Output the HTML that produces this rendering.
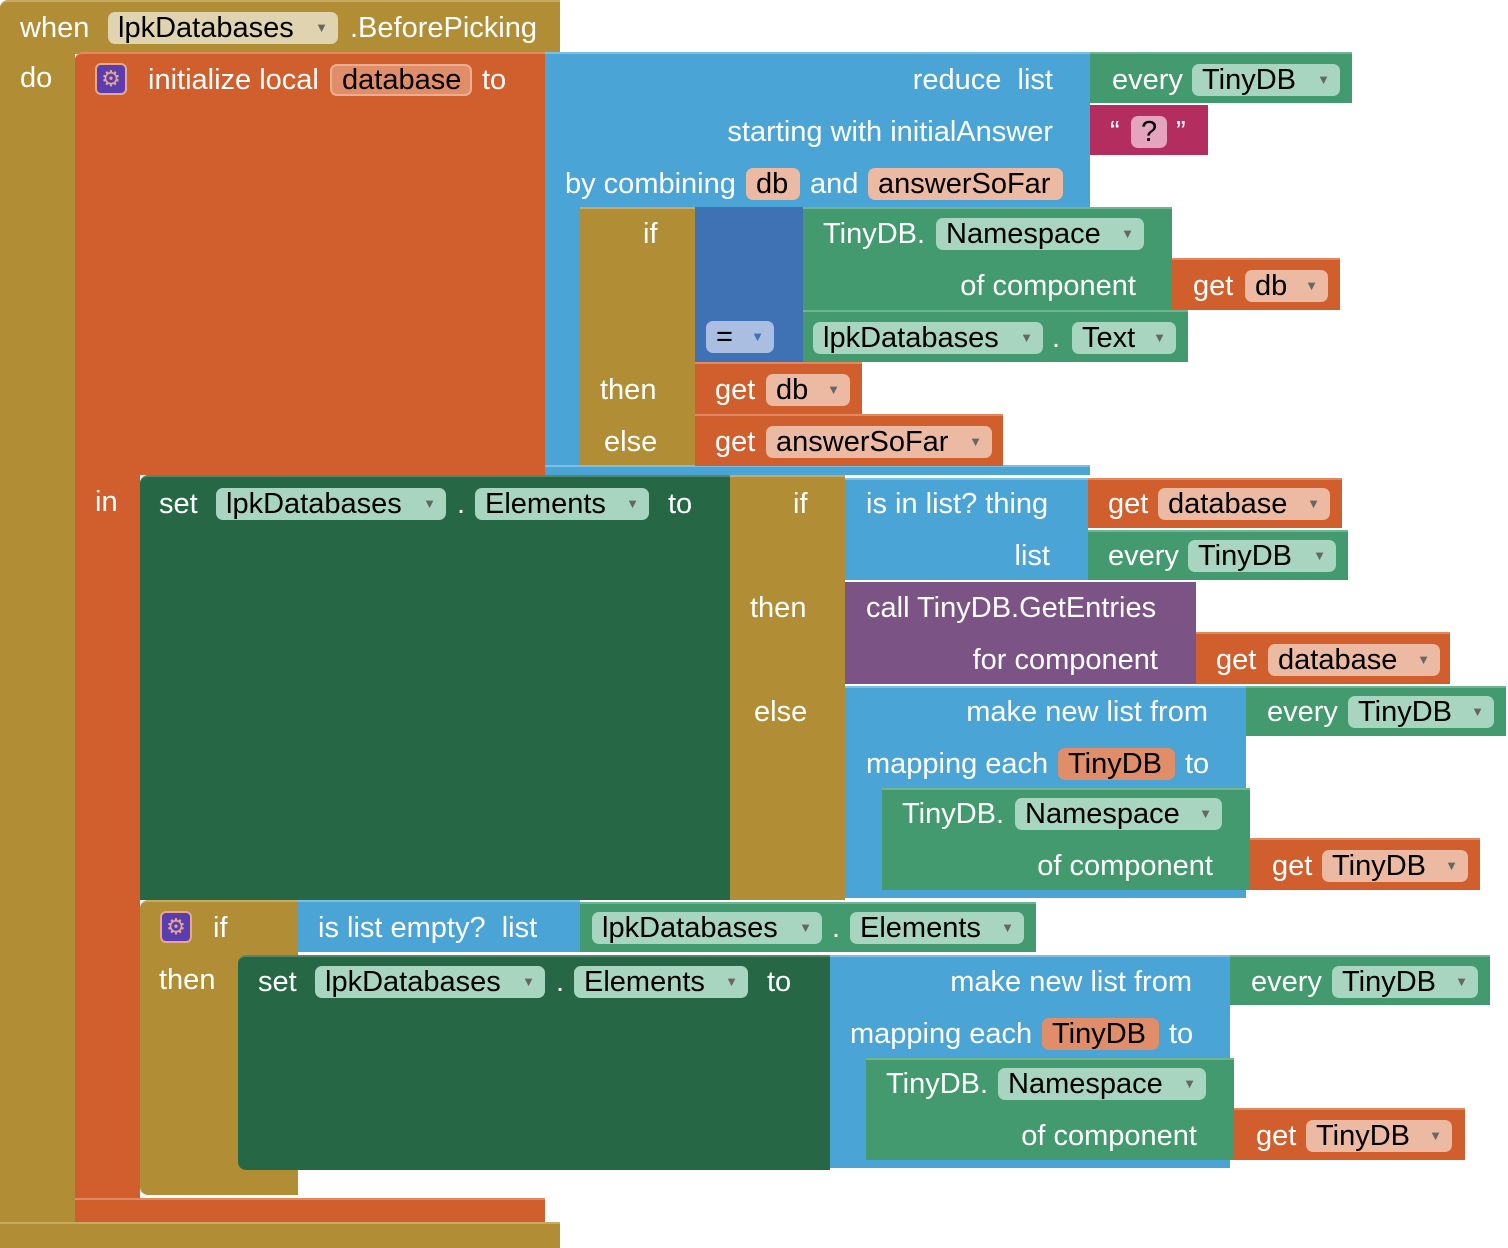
<!DOCTYPE html>
<html><head><meta charset="utf-8"><style>
body{margin:0;width:1508px;height:1248px;background:#fff;position:relative;overflow:hidden;font-family:"Liberation Sans",Arial,sans-serif;}
.b{position:absolute;box-sizing:border-box;}
.t{position:absolute;color:#fff;font-size:29px;line-height:32px;white-space:nowrap;}
.r{text-align:right;}
.f{position:absolute;box-sizing:border-box;height:32px;border-radius:7px;color:#000;font-size:29px;line-height:32px;padding-left:10px;white-space:nowrap;}
.f i{font-style:normal;font-size:13px;color:#666;position:absolute;right:10px;top:0;}
.g{background:#B18E35;border-top:2px solid #C8AB63;}
.o{background:#D05F2D;border-top:2px solid #E08A63;}
.lb{background:#4BA4D6;border-top:2px solid #7DBFE3;}
.gr{background:#439A6E;border-top:2px solid #6FB592;}
.dg{background:#266845;border-top:2px solid #52876B;}
.pu{background:#7C5385;}
.bl{background:#3F71B5;}
.mg{background:#B32D5E;}
.fg{background:#E0D3AF;}
.fo{background:#ECB9A2;}
.fl{background:#A8D5BF;}
.gear{position:absolute;width:32px;height:32px;border-radius:6px;background:#5B3DB0;border:2px solid #E7A98C;box-sizing:border-box;color:#E7A98C;font-size:22px;line-height:28px;text-align:center;}
</style></head><body>
<div class="b g" style="left:0;top:0;width:560px;height:54px;border-radius:8px 0 0 0"></div>
<div class="b g" style="left:0;top:0;width:75px;height:1248px;border-radius:8px 0 0 8px"></div>
<div class="b g" style="left:0;top:1222px;width:560px;height:26px"></div>
<div class="b o" style="left:75px;top:52px;width:470px;height:423px;border-radius:8px 0 0 0"></div>
<div class="b o" style="left:75px;top:52px;width:65px;height:1170px;border-radius:8px 0 0 8px"></div>
<div class="b o" style="left:75px;top:1198px;width:470px;height:24px"></div>
<div class="b lb" style="left:545px;top:52px;width:545px;height:155px"></div>
<div class="b lb" style="left:545px;top:52px;width:35px;height:423px"></div>
<div class="b lb" style="left:545px;top:465px;width:545px;height:10px"></div>
<div class="b gr" style="left:1090px;top:52px;width:262px;height:51px"></div>
<div class="b mg" style="left:1090px;top:105px;width:118px;height:50px"></div>
<div class="b g" style="left:580px;top:207px;width:115px;height:258px"></div>
<div class="b bl" style="left:695px;top:207px;width:108px;height:155px"></div>
<div class="b gr" style="left:803px;top:207px;width:369px;height:103px"></div>
<div class="b o" style="left:1172px;top:258px;width:168px;height:52px"></div>
<div class="b gr" style="left:803px;top:310px;width:385px;height:52px"></div>
<div class="b o" style="left:695px;top:362px;width:167px;height:52px"></div>
<div class="b o" style="left:695px;top:414px;width:308px;height:52px"></div>
<div class="b dg" style="left:140px;top:475px;width:590px;height:425px;border-radius:8px 0 0 0"></div>
<div class="b g" style="left:730px;top:475px;width:115px;height:425px"></div>
<div class="b lb" style="left:845px;top:478px;width:243px;height:102px"></div>
<div class="b o" style="left:1088px;top:478px;width:254px;height:50px"></div>
<div class="b gr" style="left:1088px;top:530px;width:260px;height:50px"></div>
<div class="b pu" style="left:845px;top:582px;width:351px;height:102px"></div>
<div class="b o" style="left:1196px;top:632px;width:254px;height:52px"></div>
<div class="b lb" style="left:845px;top:686px;width:401px;height:212px"></div>
<div class="b gr" style="left:1246px;top:686px;width:260px;height:50px"></div>
<div class="b gr" style="left:882px;top:788px;width:368px;height:102px"></div>
<div class="b o" style="left:1250px;top:838px;width:230px;height:52px"></div>
<div class="b g" style="left:140px;top:900px;width:158px;height:295px;border-radius:8px 0 0 8px"></div>
<div class="b lb" style="left:298px;top:900px;width:282px;height:52px"></div>
<div class="b gr" style="left:580px;top:902px;width:456px;height:50px"></div>
<div class="b dg" style="left:238px;top:955px;width:592px;height:215px;border-radius:8px 0 0 8px"></div>
<div class="b lb" style="left:830px;top:955px;width:400px;height:213px"></div>
<div class="b gr" style="left:1230px;top:955px;width:260px;height:50px"></div>
<div class="b gr" style="left:866px;top:1058px;width:368px;height:102px"></div>
<div class="b o" style="left:1234px;top:1108px;width:231px;height:52px"></div>

<div class="t" style="left:20px;top:12px">when</div>
<div class="f fg" style="left:108px;top:12px;width:230px">lpkDatabases<i>▼</i></div>
<div class="t" style="left:350px;top:12px">.BeforePicking</div>
<div class="t" style="left:20px;top:62px">do</div>
<div class="gear" style="left:95px;top:63px">⚙</div>
<div class="t" style="left:148px;top:64px">initialize local</div>
<div class="f" style="left:330px;top:64px;width:142px;background:#E08D6A;border:2px solid #EBAE92;line-height:28px">database</div>
<div class="t" style="left:482px;top:64px">to</div>

<div class="t r" style="right:455px;top:64px">reduce&nbsp; list</div>
<div class="t r" style="right:455px;top:116px">starting with initialAnswer</div>
<div class="t" style="left:565px;top:168px">by combining</div>
<div class="f fo" style="left:746px;top:168px;width:54px">db</div>
<div class="t" style="left:810px;top:168px">and</div>
<div class="f fo" style="left:868px;top:168px;width:195px">answerSoFar</div>
<div class="t" style="left:1112px;top:64px">every</div>
<div class="f fl" style="left:1192px;top:64px;width:148px">TinyDB<i>▼</i></div>
<div class="t" style="left:1110px;top:116px">“</div>
<div class="f" style="left:1131px;top:116px;width:36px;background:#E4A4BE">?</div>
<div class="t" style="left:1176px;top:116px">”</div>

<div class="t" style="left:643px;top:218px">if</div>
<div class="t" style="left:600px;top:374px">then</div>
<div class="t" style="left:604px;top:426px">else</div>
<div class="t" style="left:823px;top:218px">TinyDB.</div>
<div class="f fl" style="left:936px;top:218px;width:208px">Namespace<i>▼</i></div>
<div class="t r" style="right:372px;top:270px">of component</div>
<div class="t" style="left:1193px;top:270px">get</div>
<div class="f fo" style="left:1245px;top:270px;width:83px">db<i>▼</i></div>
<div class="f" style="left:706px;top:321px;width:68px;background:#A9BEE0">=<i style="color:#3F71B5">▼</i></div>
<div class="f fl" style="left:813px;top:322px;width:230px">lpkDatabases<i>▼</i></div>
<div class="t" style="left:1052px;top:322px">.</div>
<div class="f fl" style="left:1072px;top:322px;width:104px">Text<i>▼</i></div>
<div class="t" style="left:715px;top:374px">get</div>
<div class="f fo" style="left:766px;top:374px;width:84px">db<i>▼</i></div>
<div class="t" style="left:715px;top:426px">get</div>
<div class="f fo" style="left:766px;top:426px;width:226px">answerSoFar<i>▼</i></div>

<div class="t" style="left:95px;top:486px">in</div>
<div class="t" style="left:159px;top:488px">set</div>
<div class="f fl" style="left:216px;top:488px;width:230px">lpkDatabases<i>▼</i></div>
<div class="t" style="left:457px;top:488px">.</div>
<div class="f fl" style="left:475px;top:488px;width:174px">Elements<i>▼</i></div>
<div class="t" style="left:668px;top:488px">to</div>
<div class="t" style="left:793px;top:488px">if</div>
<div class="t" style="left:866px;top:488px">is in list? thing</div>
<div class="t r" style="right:458px;top:540px">list</div>
<div class="t" style="left:1108px;top:488px">get</div>
<div class="f fo" style="left:1158px;top:488px;width:172px">database<i>▼</i></div>
<div class="t" style="left:1108px;top:540px">every</div>
<div class="f fl" style="left:1188px;top:540px;width:148px">TinyDB<i>▼</i></div>
<div class="t" style="left:750px;top:592px">then</div>
<div class="t" style="left:866px;top:592px">call TinyDB.GetEntries</div>
<div class="t r" style="right:350px;top:644px">for component</div>
<div class="t" style="left:1216px;top:644px">get</div>
<div class="f fo" style="left:1268px;top:644px;width:172px">database<i>▼</i></div>
<div class="t" style="left:754px;top:696px">else</div>
<div class="t r" style="right:300px;top:696px">make new list from</div>
<div class="t" style="left:1267px;top:696px">every</div>
<div class="f fl" style="left:1348px;top:696px;width:146px">TinyDB<i>▼</i></div>
<div class="t" style="left:866px;top:748px">mapping each</div>
<div class="f fo" style="left:1058px;top:748px;width:117px;background:#E08D6A">TinyDB</div>
<div class="t" style="left:1185px;top:748px">to</div>
<div class="t" style="left:902px;top:798px">TinyDB.</div>
<div class="f fl" style="left:1015px;top:798px;width:207px">Namespace<i>▼</i></div>
<div class="t r" style="right:295px;top:850px">of component</div>
<div class="t" style="left:1272px;top:850px">get</div>
<div class="f fo" style="left:1322px;top:850px;width:146px">TinyDB<i>▼</i></div>

<div class="gear" style="left:160px;top:911px">⚙</div>
<div class="t" style="left:213px;top:912px">if</div>
<div class="t" style="left:159px;top:964px">then</div>
<div class="t" style="left:318px;top:912px">is list empty?&nbsp; list</div>
<div class="f fl" style="left:592px;top:912px;width:230px">lpkDatabases<i>▼</i></div>
<div class="t" style="left:832px;top:912px">.</div>
<div class="f fl" style="left:850px;top:912px;width:174px">Elements<i>▼</i></div>
<div class="t" style="left:258px;top:966px">set</div>
<div class="f fl" style="left:315px;top:966px;width:230px">lpkDatabases<i>▼</i></div>
<div class="t" style="left:556px;top:966px">.</div>
<div class="f fl" style="left:574px;top:966px;width:174px">Elements<i>▼</i></div>
<div class="t" style="left:767px;top:966px">to</div>
<div class="t r" style="right:316px;top:966px">make new list from</div>
<div class="t" style="left:1251px;top:966px">every</div>
<div class="f fl" style="left:1332px;top:966px;width:146px">TinyDB<i>▼</i></div>
<div class="t" style="left:850px;top:1018px">mapping each</div>
<div class="f fo" style="left:1042px;top:1018px;width:117px;background:#E08D6A">TinyDB</div>
<div class="t" style="left:1169px;top:1018px">to</div>
<div class="t" style="left:886px;top:1068px">TinyDB.</div>
<div class="f fl" style="left:998px;top:1068px;width:208px">Namespace<i>▼</i></div>
<div class="t r" style="right:311px;top:1120px">of component</div>
<div class="t" style="left:1256px;top:1120px">get</div>
<div class="f fo" style="left:1306px;top:1120px;width:146px">TinyDB<i>▼</i></div>
</body></html>
